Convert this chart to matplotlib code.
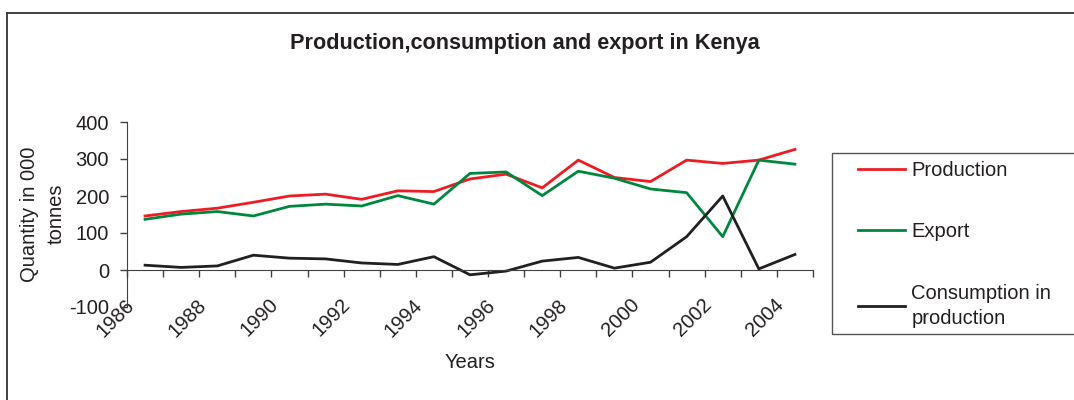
import matplotlib
matplotlib.use("Agg")
import matplotlib.pyplot as plt
import matplotlib.transforms as mtransforms
from matplotlib.lines import Line2D
from matplotlib.patches import Rectangle

# data (thousand tonnes)
years = list(range(1986, 2005))
production = [146, 158, 167, 183, 200, 205, 191, 214, 212, 246,
              259, 222, 297, 250, 239, 297, 288, 297, 326]
export = [137, 151, 158, 146, 172, 178, 173, 201, 178, 261,
          265, 201, 267, 248, 219, 209, 90, 297, 286]
consumption = [13, 7, 11, 40, 32, 30, 19, 15, 36, -13,
               -3, 24, 34, 5, 21, 90, 200, 3, 42]
y_ticks = [-100, 0, 100, 200, 300, 400]

plt.rcParams["font.family"] = ["Liberation Sans", "DejaVu Sans"]
plt.rcParams["axes.unicode_minus"] = False
txt = "#231F20"
axc = "#404040"
W, H = 1074, 400

fig = plt.figure(figsize=(W / 100, H / 100), dpi=100)

# outer border (top and left only, like the cropped source)
fig.add_artist(Line2D([7.5 / W, 1], [1 - 13 / H, 1 - 13 / H], transform=fig.transFigure,
                      color="#333333", lw=1.3))
fig.add_artist(Line2D([7.5 / W, 7.5 / W], [0, 1 - 13 / H], transform=fig.transFigure,
                      color="#333333", lw=1.3))

fig.text(525 / W, 1 - 44 / H, "Production,consumption and export in Kenya",
         ha="center", va="center", fontsize=15.6, fontweight="bold", color=txt)

ax = fig.add_axes([127 / W, 93 / H, 686 / W, 185 / H])
x = list(range(len(years)))
ax.plot(x, production, color="#ED1C24", lw=2.0, label="Production")
ax.plot(x, export, color="#00873E", lw=2.0, label="Export")
ax.plot(x, consumption, color="#231F20", lw=2.0, label="Consumption in\nproduction")

ax.set_xlim(-0.5, len(years) - 0.5)
ax.set_ylim(-100, 400)
ax.set_yticks(y_ticks)
ax.set_yticklabels([str(v) for v in y_ticks])

# category boundaries, labelled every second year
bounds = [b - 0.5 for b in range(len(years) + 1)]
blabels = [str(years[b]) if b < len(years) and b % 2 == 0 else "" for b in range(len(years) + 1)]
ax.set_xticks(bounds)
ax.set_xticklabels(blabels)

for s in ["top", "right"]:
    ax.spines[s].set_visible(False)
ax.spines["bottom"].set_position(("data", 0))
ax.spines["bottom"].set_color(axc)
ax.spines["left"].set_color(axc)
ax.patch.set_visible(False)

ax.tick_params(axis="y", direction="out", length=5, width=1, color=axc, pad=8,
               labelsize=14.5, labelcolor=txt)
ax.tick_params(axis="x", direction="out", length=5, width=1, color=axc, pad=18,
               labelsize=14.5, labelcolor=txt)
shift = mtransforms.ScaledTranslation(4 / 100, 0, fig.dpi_scale_trans)
for lbl in ax.get_xticklabels():
    lbl.set_rotation(45)
    lbl.set_ha("right")
    lbl.set_va("center")
    lbl.set_rotation_mode("anchor")
    lbl.set_transform(lbl.get_transform() + shift)

fig.text(470 / W, 1 - 362 / H, "Years", ha="center", va="center", fontsize=14.5, color=txt)
fig.text(43 / W, 1 - 214 / H, "Quantity in 000\ntonnes", ha="center", va="center",
         rotation=90, fontsize=14.5, color=txt, linespacing=1.5, multialignment="center")

# legend box
fig.add_artist(Rectangle((832 / W, 1 - 334 / H), (W + 10 - 832) / W, 181 / H,
                         transform=fig.transFigure, fill=False, edgecolor="#555555", lw=1.0))
leg = fig.legend(loc="upper left", bbox_to_anchor=(858 / W, 1 - 161 / H), frameon=False,
                 borderpad=0, borderaxespad=0, fontsize=14.5, handlelength=2.35,
                 handletextpad=0.3, labelspacing=2.1, labelcolor=txt)
leg.get_texts()[2].set_linespacing(1.4)

fig.savefig("out.png", dpi=100)
